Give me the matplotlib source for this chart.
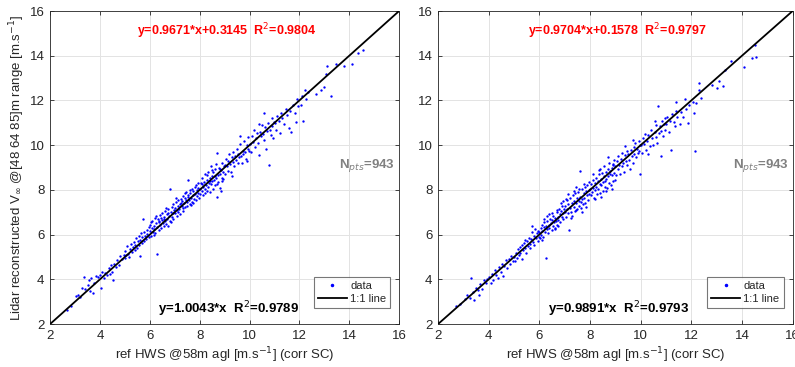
"""Lidar vs reference HWS scatter, two reconstruction variants side by side."""
import matplotlib
matplotlib.use('Agg')
import matplotlib.pyplot as plt
from matplotlib.lines import Line2D

plt.rcParams['font.family'] = ['Liberation Sans', 'DejaVu Sans']

# points (ref HWS, lidar HWS)
left_pts = [
    (2.68,2.62),(2.85,2.80),(3.02,3.25),(3.10,3.30),(3.18,3.22),(3.35,4.12),(3.40,3.55),(3.52,3.75),
    (3.60,3.50),(3.72,3.38),(3.78,3.85),(3.92,4.10),(3.55,3.95),(3.65,4.05),(3.85,4.15),(3.30,3.60),
    (4.02,4.20),(4.05,3.62),(4.10,4.35),(4.15,4.05),(4.22,4.30),(4.28,4.18),(4.35,4.50),(4.40,4.25),
    (4.45,4.62),(4.50,4.35),(4.52,3.98),(4.58,4.70),(4.65,4.55),(4.70,4.88),(4.75,4.62),(4.82,5.05),
    (4.88,4.92),(4.95,5.10),
    (5.00,4.95),(5.02,5.28),(5.05,5.08),(5.10,5.50),(5.12,5.15),(5.18,5.02),(5.20,5.35),(5.25,5.60),
    (5.28,5.22),(5.32,5.45),(5.35,5.68),(5.40,5.30),(5.42,5.55),(5.45,5.85),(5.50,5.40),(5.52,5.70),
    (5.55,5.95),(5.58,5.52),(5.60,5.78),(5.62,5.05),(5.65,6.05),(5.68,5.62),(5.70,5.88),(5.72,6.68),
    (5.75,5.72),(5.78,6.10),(5.80,5.95),(5.85,5.80),(5.88,6.20),(5.90,6.02),(5.95,6.35),(5.98,5.88),
    (6.00,6.15),(6.02,6.45),(6.05,5.95),(6.08,6.30),(6.10,6.62),(6.12,6.10),(6.15,6.40),(6.18,6.25),
    (6.20,6.75),(6.22,6.05),(6.25,6.50),(6.28,6.35),(6.30,5.12),(6.32,6.70),(6.35,6.20),(6.38,6.55),
    (6.40,6.88),(6.42,6.42),(6.45,6.30),(6.48,6.65),(6.50,6.95),(6.52,6.50),(6.55,6.38),(6.58,6.80),
    (6.60,6.62),(6.62,7.05),(6.65,6.48),(6.68,6.90),(6.70,6.72),(6.72,6.40),(6.75,7.15),(6.78,6.85),
    (6.80,6.60),(6.82,8.05),(6.85,7.02),(6.88,6.78),(6.90,7.25),(6.92,6.95),(6.95,6.70),(6.98,7.10),
    (6.05,6.55),(6.15,6.00),(6.25,6.85),(6.35,6.60),(6.45,6.75),(6.55,6.72),(6.65,7.20),(6.75,6.95),
    (6.85,6.55),(6.95,7.35),
    (7.00,7.20),(7.02,6.95),(7.05,7.45),(7.08,7.10),(7.10,6.85),(7.12,7.30),(7.15,7.55),(7.18,7.15),
    (7.20,7.38),(7.22,6.90),(7.25,7.60),(7.28,7.28),(7.30,7.50),(7.32,7.05),(7.35,7.72),(7.38,7.40),
    (7.40,7.22),(7.42,7.62),(7.45,7.90),(7.48,7.45),(7.50,7.30),(7.52,7.75),(7.55,8.45),(7.58,7.55),
    (7.60,7.38),(7.62,7.85),(7.65,7.62),(7.68,8.05),(7.70,7.48),(7.72,7.78),(7.75,7.95),(7.78,7.60),
    (7.80,8.15),(7.82,7.82),(7.85,7.55),(7.88,8.00),(7.90,7.72),(7.92,8.30),(7.95,7.88),(7.98,7.65),
    (7.05,7.62),(7.15,7.00),(7.25,7.42),(7.35,7.18),(7.45,7.55),(7.55,7.70),(7.65,7.32),(7.75,7.40),
    (7.85,8.20),(7.95,8.10),(7.40,7.85),(7.60,8.00),
    (8.00,8.05),(8.02,7.80),(8.05,8.30),(8.08,7.95),(8.10,8.55),(8.12,8.12),(8.15,7.75),(8.18,8.35),
    (8.20,8.05),(8.22,8.70),(8.25,8.22),(8.28,7.95),(8.30,8.45),(8.32,8.15),(8.35,8.80),(8.38,8.30),
    (8.40,7.90),(8.42,8.55),(8.45,8.25),(8.48,8.62),(8.50,8.40),(8.52,8.05),(8.55,8.78),(8.58,8.45),
    (8.60,8.20),(8.62,8.92),(8.65,8.55),(8.68,7.70),(8.70,9.65),(8.72,8.65),(8.75,8.35),(8.78,9.00),
    (8.80,8.70),(8.82,8.10),(8.85,8.88),(8.88,8.55),(8.90,9.20),(8.92,8.80),(8.95,8.50),(8.98,9.05),
    (8.10,8.25),(8.20,7.85),(8.30,8.65),(8.40,8.40),(8.50,8.90),(8.60,8.60),(8.70,8.25),(8.80,8.95),
    (8.90,8.40),(8.45,9.05),(8.65,9.15),(8.85,7.95),
    (9.00,9.10),(9.03,8.70),(9.06,9.40),(9.10,9.05),(9.12,8.85),(9.15,9.30),(9.18,9.60),(9.22,9.15),
    (9.25,8.80),(9.28,9.45),(9.32,9.25),(9.35,9.70),(9.38,9.05),(9.42,9.50),(9.45,9.35),(9.48,9.85),
    (9.52,9.20),(9.55,9.60),(9.58,9.45),(9.62,10.05),(9.65,9.50),(9.68,9.20),(9.72,9.75),(9.75,9.60),
    (9.78,10.20),(9.82,9.70),(9.85,9.40),(9.88,10.00),(9.92,9.85),(9.95,10.35),(9.98,9.75),(9.30,8.60),
    (9.60,10.40),(9.90,9.30),
    (10.02,10.05),(10.05,9.70),(10.10,10.40),(10.15,10.15),(10.18,10.70),(10.22,9.90),(10.25,10.30),
    (10.30,10.55),(10.35,10.10),(10.38,9.55),(10.42,10.60),(10.45,10.40),(10.50,10.90),(10.55,10.50),
    (10.58,10.25),(10.62,10.80),(10.65,9.85),(10.70,10.65),(10.75,11.00),(10.78,9.10),(10.82,10.70),
    (10.85,10.45),(10.90,11.20),(10.92,10.85),(10.95,10.30),(10.98,11.05),(10.60,11.45),(10.40,10.95),
    (11.02,11.00),(11.08,10.70),(11.12,11.30),(11.18,11.10),(11.22,10.55),(11.28,11.45),(11.32,11.20),
    (11.38,10.95),(11.45,11.60),(11.50,11.35),(11.58,10.75),(11.62,11.55),(11.68,10.60),(11.75,11.80),
    (11.82,11.45),(11.90,12.05),(11.95,11.75),(11.85,11.05),
    (12.05,11.80),(12.10,12.20),(12.15,11.10),(12.22,12.45),(12.28,12.05),(12.35,12.40),(12.65,12.30),
    (12.85,12.45),(13.00,12.60),(13.05,13.20),(13.10,13.55),(13.25,12.20),(13.45,13.65),(13.80,13.55),
    (14.10,13.65),(14.35,14.10),(14.55,14.25),
]

right_pts = [
    (2.72,2.82),(2.88,2.90),(3.05,3.10),(3.15,3.30),(3.25,3.15),(3.30,4.05),(3.38,3.45),(3.42,3.08),
    (3.50,3.60),(3.58,3.52),(3.65,3.78),(3.72,3.55),(3.80,3.95),(3.88,3.82),(3.95,4.00),(3.62,3.30),
    (4.02,4.10),(4.08,3.85),(4.12,4.25),(4.18,3.95),(4.25,4.40),(4.30,4.20),(4.35,4.05),(4.42,4.55),
    (4.48,4.35),(4.52,4.70),(4.55,4.15),(4.62,4.60),(4.68,4.85),(4.72,4.50),(4.80,4.90),(4.85,4.70),
    (4.90,5.05),(4.95,4.80),
    (5.00,5.02),(5.03,4.80),(5.06,5.20),(5.10,4.95),(5.14,5.35),(5.18,5.10),(5.22,5.45),(5.25,5.18),
    (5.30,4.90),(5.33,5.55),(5.36,5.30),(5.40,5.62),(5.44,5.40),(5.48,5.20),(5.52,5.70),(5.55,5.50),
    (5.58,5.85),(5.62,5.60),(5.65,5.38),(5.68,5.80),(5.72,6.10),(5.75,5.68),(5.78,5.92),(5.80,5.55),
    (5.84,6.25),(5.87,5.85),(5.90,6.05),(5.93,5.72),(5.96,6.15),(5.98,5.90),(5.70,6.40),(5.45,5.75),
    (6.00,6.10),(6.02,5.85),(6.05,6.30),(6.08,6.00),(6.10,6.45),(6.12,6.15),(6.15,5.90),(6.18,6.35),
    (6.20,6.55),(6.22,6.10),(6.25,6.40),(6.28,4.95),(6.30,6.25),(6.32,6.60),(6.35,6.05),(6.38,6.45),
    (6.40,6.30),(6.42,6.72),(6.45,6.50),(6.48,6.20),(6.50,6.65),(6.52,6.40),(6.55,6.85),(6.58,6.55),
    (6.60,6.30),(6.62,6.75),(6.65,6.60),(6.68,7.00),(6.70,6.45),(6.72,6.80),(6.75,6.65),(6.78,7.15),
    (6.80,6.90),(6.82,6.55),(6.85,7.05),(6.88,6.80),(6.90,7.30),(6.92,6.95),(6.95,6.70),(6.98,7.15),
    (6.10,5.75),(6.30,6.85),(6.50,6.95),(6.60,6.25),(6.70,7.10),(6.85,7.40),(6.95,7.50),(6.40,6.90),
    (6.75,6.40),(6.20,6.70),
    (7.00,7.00),(7.02,7.30),(7.05,6.80),(7.08,7.15),(7.10,7.55),(7.12,6.95),(7.15,7.35),(7.18,6.20),
    (7.20,7.20),(7.22,7.65),(7.25,7.00),(7.28,7.40),(7.30,6.85),(7.32,7.75),(7.35,7.25),(7.38,7.50),
    (7.40,7.05),(7.42,7.85),(7.45,7.40),(7.48,7.65),(7.50,7.15),(7.52,7.90),(7.55,7.50),(7.58,7.30),
    (7.60,8.85),(7.62,7.70),(7.65,7.45),(7.68,8.05),(7.70,7.60),(7.72,7.35),(7.75,7.85),(7.78,7.65),
    (7.80,8.15),(7.82,7.40),(7.85,7.95),(7.88,7.75),(7.90,8.20),(7.92,7.55),(7.95,8.00),(7.98,7.80),
    (7.05,7.60),(7.15,7.80),(7.25,6.75),(7.35,7.95),(7.45,7.10),(7.55,8.05),(7.65,7.20),(7.75,8.25),
    (7.85,7.25),(7.95,8.35),(7.45,8.15),(7.70,7.00),
    (8.00,8.05),(8.02,7.75),(8.05,8.25),(8.08,7.90),(8.10,8.45),(8.12,8.10),(8.15,7.65),(8.18,8.30),
    (8.20,8.00),(8.22,8.55),(8.25,8.15),(8.28,7.80),(8.30,8.40),(8.32,8.05),(8.35,8.70),(8.38,8.25),
    (8.40,7.85),(8.42,8.50),(8.45,8.20),(8.48,8.75),(8.50,8.35),(8.52,7.95),(8.55,8.60),(8.58,8.40),
    (8.60,8.15),(8.62,8.80),(8.65,8.50),(8.68,8.10),(8.70,8.95),(8.72,8.60),(8.75,8.30),(8.78,8.85),
    (8.80,8.70),(8.82,8.20),(8.85,9.00),(8.88,8.65),(8.90,8.40),(8.92,9.10),(8.95,8.75),(8.98,8.45),
    (8.10,8.70),(8.20,7.60),(8.35,8.90),(8.45,7.70),(8.55,9.05),(8.65,7.95),(8.75,9.20),(8.85,8.05),
    (8.95,9.35),(8.70,9.45),(8.90,9.15),(8.40,8.95),
    (9.00,9.05),(9.03,8.65),(9.06,9.30),(9.10,8.95),(9.12,9.50),(9.15,9.10),(9.18,8.70),(9.22,9.40),
    (9.25,9.05),(9.28,9.65),(9.32,9.20),(9.35,8.80),(9.38,9.55),(9.42,9.30),(9.45,9.75),(9.48,9.10),
    (9.52,9.60),(9.55,9.35),(9.58,8.95),(9.62,9.80),(9.65,9.50),(9.68,9.20),(9.72,9.90),(9.75,9.60),
    (9.78,10.10),(9.82,9.45),(9.85,9.85),(9.88,9.65),(9.92,10.20),(9.95,9.75),(9.96,8.70),(9.98,10.00),
    (9.40,9.95),(9.70,10.25),
    (10.02,10.00),(10.05,9.65),(10.10,10.30),(10.15,10.05),(10.18,10.50),(10.22,9.80),(10.25,10.20),
    (10.30,10.45),(10.35,9.95),(10.40,10.70),(10.45,10.30),(10.50,10.00),(10.55,10.60),(10.60,10.35),
    (10.62,10.90),(10.65,10.10),(10.70,11.75),(10.72,10.55),(10.75,10.85),(10.80,9.50),(10.82,10.65),
    (10.85,11.10),(10.90,10.40),(10.92,10.95),(10.95,11.20),(10.98,10.70),(10.30,9.60),(10.55,11.10),
    (11.02,10.95),(11.05,11.25),(11.10,10.60),(11.15,11.10),(11.20,9.80),(11.25,11.40),(11.30,11.05),
    (11.35,10.85),(11.40,11.55),(11.45,11.25),(11.55,10.95),(11.60,11.50),(11.68,11.25),(11.75,12.05),
    (11.80,11.60),(11.85,11.00),(11.92,11.80),(11.40,11.95),
    (12.05,11.95),(12.10,11.45),(12.13,9.72),(12.20,11.90),(12.30,12.80),(12.30,12.45),(12.40,12.10),
    (12.80,12.70),(13.00,12.55),(13.10,12.85),(13.25,12.65),(13.35,13.35),(13.55,13.75),(14.10,13.50),
    (14.40,13.90),(14.55,13.95),(14.50,14.50),
]

fit_texts = ["y=0.9671*x+0.3145  R$^2$=0.9804", "y=0.9704*x+0.1578  R$^2$=0.9797"]
origin_texts = ["y=1.0043*x  R$^2$=0.9789", "y=0.9891*x  R$^2$=0.9793"]
n_pts = [943, 943]
ticks = [2, 4, 6, 8, 10, 12, 14, 16]

AX_COL = "#262626"
fig = plt.figure(figsize=(7.95, 3.67), dpi=100)
boxes = [[0.063, 0.117, 0.439, 0.853], [0.551, 0.117, 0.446, 0.853]]

for i, pts in enumerate([left_pts, right_pts]):
    ax = fig.add_axes(boxes[i])
    xs = [p[0] for p in pts]
    ys = [p[1] for p in pts]
    ax.plot(xs, ys, ".", color="blue", markersize=3.4, markeredgewidth=0, zorder=2)
    ax.plot([2, 16], [2, 16], "-", color="black", linewidth=1.3, zorder=3)
    ax.set_xlim(2, 16); ax.set_ylim(2, 16)
    ax.set_xticks(ticks); ax.set_yticks(ticks)
    ax.grid(True, color="#e3e3e3", linewidth=0.7, zorder=0)
    ax.set_axisbelow(True)
    ax.tick_params(direction="in", top=True, right=True, length=3, width=0.6,
                   colors=AX_COL, labelsize=9.5, pad=4)
    for s in ax.spines.values():
        s.set_color(AX_COL); s.set_linewidth(0.6)
    ax.set_xlabel("ref HWS @58m agl [m.s$^{-1}$] (corr SC)", fontsize=9.5, color=AX_COL, labelpad=3)
    if i == 0:
        ax.set_ylabel("Lidar reconstructed V$_\\infty$ @[48 64 85]m range [m.s$^{-1}$]",
                      fontsize=9.5, color=AX_COL, labelpad=2)
    ax.text(9.1, 15.1, fit_texts[i], color="red", fontsize=9, fontweight="bold",
            ha="center", va="center")
    ax.text(9.15, 2.65, origin_texts[i], color="black", fontsize=9.5, fontweight="bold",
            ha="center", va="center")
    ax.text(15.85, 9.1, f"N$_{{pts}}$={n_pts[i]}", color="#808080", fontsize=9.5,
            fontweight="bold", ha="right", va="center")
    handles = [Line2D([], [], marker=".", linestyle="none", color="blue", markersize=3),
               Line2D([], [], color="black", linewidth=1.3)]
    leg = ax.legend(handles, ["data", "1:1 line"], loc="lower right", fontsize=8,
                    frameon=True, fancybox=False, edgecolor="#555555", borderpad=0.35,
                    handlelength=2.6, handletextpad=0.3, labelspacing=0.25,
                    bbox_to_anchor=(0.99, 0.035))
    leg.get_frame().set_linewidth(0.8)
    for t in leg.get_texts():
        t.set_color(AX_COL)

fig.savefig("out.png", dpi=100, facecolor="white")
